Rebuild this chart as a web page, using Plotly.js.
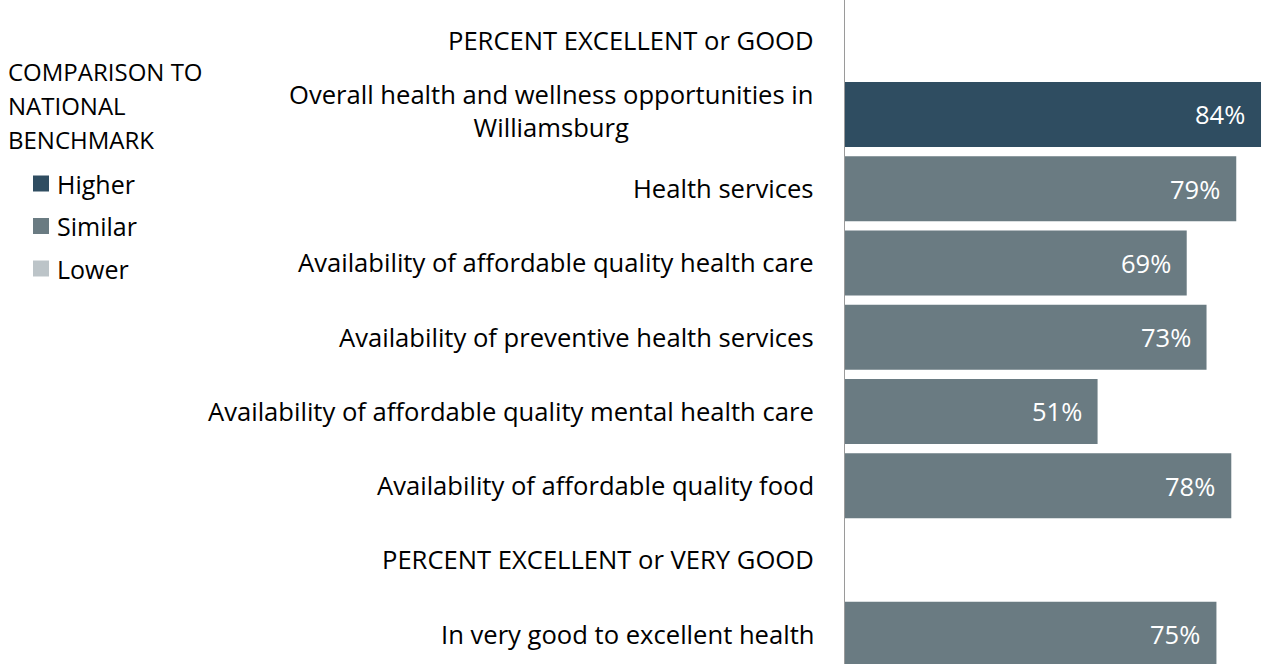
<!DOCTYPE html>
<html>
<head>
<meta charset="utf-8">
<script src="https://cdn.plot.ly/plotly-3.0.1.min.js"></script>
<style>
  html, body { margin: 0; padding: 0; background: #fff; overflow: hidden; }
  #chart { width: 1262px; height: 664px; }
</style>
</head>
<body>
<div id="chart"></div>
<script>
// ---- data ----
const categories = [
  "PERCENT EXCELLENT or GOOD",
  "Overall health and wellness opportunities in<br>Williamsburg",
  "Health services",
  "Availability of affordable quality health care",
  "Availability of preventive health services",
  "Availability of affordable quality mental health care",
  "Availability of affordable quality food",
  "PERCENT EXCELLENT or VERY GOOD",
  "In very good to excellent health"
];
const values = [null, 84, 79, 69, 73, 51, 78, null, 75];
const benchmark = [null, "Higher", "Similar", "Similar", "Similar", "Similar", "Similar", null, "Similar"];
const legendTitle = ["COMPARISON TO", "NATIONAL", "BENCHMARK"];
const legendLabels = ["Higher", "Similar", "Lower"];
const legendColors = {"Higher": "#2f4d61", "Similar": "#6a7b82", "Lower": "#bcc4c8"};

// ---- chart ----
const FONT = "'Open Sans', sans-serif";
const idx = categories.map((_, i) => i);

const trace = {
  type: "bar",
  orientation: "h",
  y: idx,
  x: values,
  width: 0.876,
  marker: { color: benchmark.map(b => b ? legendColors[b] : "rgba(0,0,0,0)") },
  hoverinfo: "skip",
  showlegend: false
};

const annotations = [];
categories.forEach((c, i) => {
  annotations.push({
    xref: "paper", yref: "y", x: 0, y: i,
    xanchor: "right", yanchor: "middle", xshift: -29,
    yshift: c.indexOf("<br>") >= 0 ? 3 : 0,
    align: "center", showarrow: false,
    text: c,
    font: { family: FONT, size: 25.6, color: "#000" }
  });
});
values.forEach((v, i) => {
  if (v === null) return;
  annotations.push({
    xref: "x", yref: "y", x: v, y: i,
    xanchor: "right", yanchor: "middle", xshift: -14,
    showarrow: false,
    text: v + "%",
    font: { family: FONT, size: 25.5, color: "#fff" }
  });
});
const L = 845, W = 417;
const titleY = [71, 105.5, 140];
legendTitle.forEach((t, i) => {
  annotations.push({
    xref: "paper", yref: "paper", x: (6 - L) / W, y: 1 - titleY[i] / 664,
    xanchor: "left", yanchor: "middle", showarrow: false,
    text: t, font: { family: FONT, size: 24, color: "#000" }
  });
});
const shapes = [];
const itemY = [183.5, 226, 268.5];
legendLabels.forEach((t, i) => {
  annotations.push({
    xref: "paper", yref: "paper", x: (55 - L) / W, y: 1 - itemY[i] / 664,
    xanchor: "left", yanchor: "middle", showarrow: false,
    text: t, font: { family: FONT, size: 25, color: "#000" }
  });
  shapes.push({
    type: "rect", xref: "paper", yref: "paper",
    x0: (33 - L) / W, x1: (49 - L) / W,
    y0: 1 - (itemY[i] - 8) / 664, y1: 1 - (itemY[i] + 8) / 664,
    fillcolor: legendColors[t], line: { width: 0 }
  });
});

const layout = {
  width: 1262, height: 664,
  margin: { l: L, r: 0, t: 0, b: 0, pad: 0 },
  paper_bgcolor: "#fff", plot_bgcolor: "#fff",
  showlegend: false,
  xaxis: { range: [0, 84.2], visible: false, fixedrange: true },
  yaxis: {
    range: [8.402, -0.542], showticklabels: false, showgrid: false, zeroline: false,
    showline: true, linecolor: "#9a9a9a", linewidth: 1.5, ticks: "", fixedrange: true
  },
  annotations: annotations,
  shapes: shapes
};

Plotly.newPlot("chart", [trace], layout, { displayModeBar: false, staticPlot: true });
</script>
</body>
</html>
